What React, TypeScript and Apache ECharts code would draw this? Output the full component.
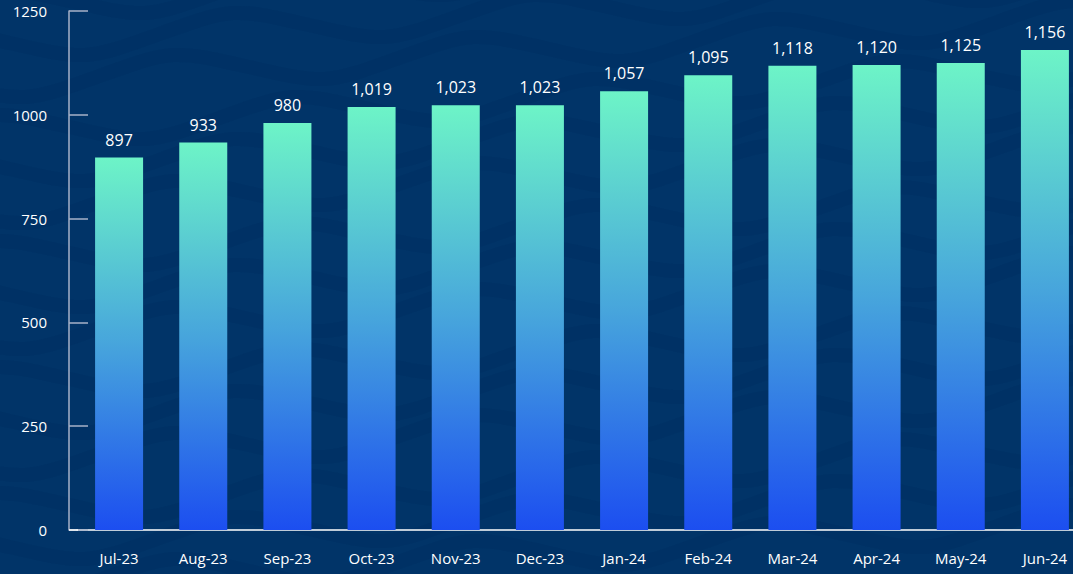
import React, { useEffect, useRef } from "react";
import * as echarts from "echarts";

const categories = ["Jul-23", "Aug-23", "Sep-23", "Oct-23", "Nov-23", "Dec-23", "Jan-24", "Feb-24", "Mar-24", "Apr-24", "May-24", "Jun-24"];
const values = [897, 933, 980, 1019, 1023, 1023, 1057, 1095, 1118, 1120, 1125, 1156];
const yTicks = { min: 0, max: 1250, interval: 250 };

const FONT = "'Open Sans', 'Noto Sans', sans-serif";

function wavePath(width: number, amp: number, period: number): string {
  let d = "M0 0";
  const n = Math.ceil(width / period) + 1;
  for (let i = 0; i < n; i++) {
    const x0 = i * period;
    d += ` C${x0 + period * 0.25} ${-amp} ${x0 + period * 0.25} ${-amp} ${x0 + period * 0.5} 0`;
    d += ` C${x0 + period * 0.75} ${amp} ${x0 + period * 0.75} ${amp} ${x0 + period} 0`;
  }
  return d;
}

export default function App() {
  const ref = useRef<HTMLDivElement>(null);
  useEffect(() => {
    document.body.style.margin = "0";
    if (!ref.current) return;
    try {
      echarts.graphic.registerShape("wave", echarts.graphic.extendPath(wavePath(1500, 22, 300), {}) as any);
    } catch (e) {}
    const chart = echarts.init(ref.current, undefined, { renderer: "svg" });
    const waves: any[] = [];
    for (let i = 0; i < 15; i++) {
      waves.push({
        type: "wave",
        x: -80 - (i % 3) * 60,
        y: 10 + i * 42,
        rotation: 0.06,
        silent: true,
        z: -10,
        style: { fill: "none", stroke: "#00285a", lineWidth: 14, opacity: 0.22 },
      });
    }
    chart.setOption({
      animation: false,
      backgroundColor: "#013468",
      textStyle: { fontFamily: FONT },
      grid: { left: 77, top: 11, width: 1010, bottom: 44, containLabel: false },
      graphic: [
        ...waves,
        {
          type: "line",
          shape: { x1: 69, y1: 530, x2: 78, y2: 530 },
          style: { stroke: "#ffffff", lineWidth: 1.5 },
          z: 10,
        },
      ],
      xAxis: {
        type: "category",
        data: categories,
        axisTick: { show: false },
        axisLine: { lineStyle: { color: "#ffffff", width: 1.5 } },
        axisLabel: { color: "#ffffff", fontSize: 15, margin: 20, fontFamily: FONT },
      },
      yAxis: {
        type: "value",
        min: yTicks.min,
        max: yTicks.max,
        interval: yTicks.interval,
        offset: 8,
        splitLine: { show: false },
        axisLine: { show: true, lineStyle: { color: "#a7b2c8", width: 1.5 } },
        axisTick: { show: true, inside: true, length: 19, lineStyle: { color: "#a7b2c8", width: 1.5 } },
        axisLabel: { color: "#ffffff", fontSize: 15, margin: 22, fontFamily: FONT, formatter: (v: number) => String(v) },
      },
      series: [
        {
          type: "bar",
          data: values,
          barWidth: 48,
          itemStyle: {
            color: new echarts.graphic.LinearGradient(0, 0, 0, 1, [
              { offset: 0, color: "#6df4c7" },
              { offset: 0.5, color: "#47a5dc" },
              { offset: 1, color: "#1c4ef0" },
            ]),
          },
          label: {
            show: true,
            position: "top",
            distance: 10,
            color: "#ffffff",
            fontSize: 16,
            fontFamily: FONT,
            formatter: (p: any) => Number(p.value).toLocaleString("en-US"),
          },
        },
      ],
    });
    return () => chart.dispose();
  }, []);
  return (
    <div style={{ width: 1073, height: 574, overflow: "hidden" }}>
      <div ref={ref} style={{ width: 1100, height: 574 }} />
    </div>
  );
}
